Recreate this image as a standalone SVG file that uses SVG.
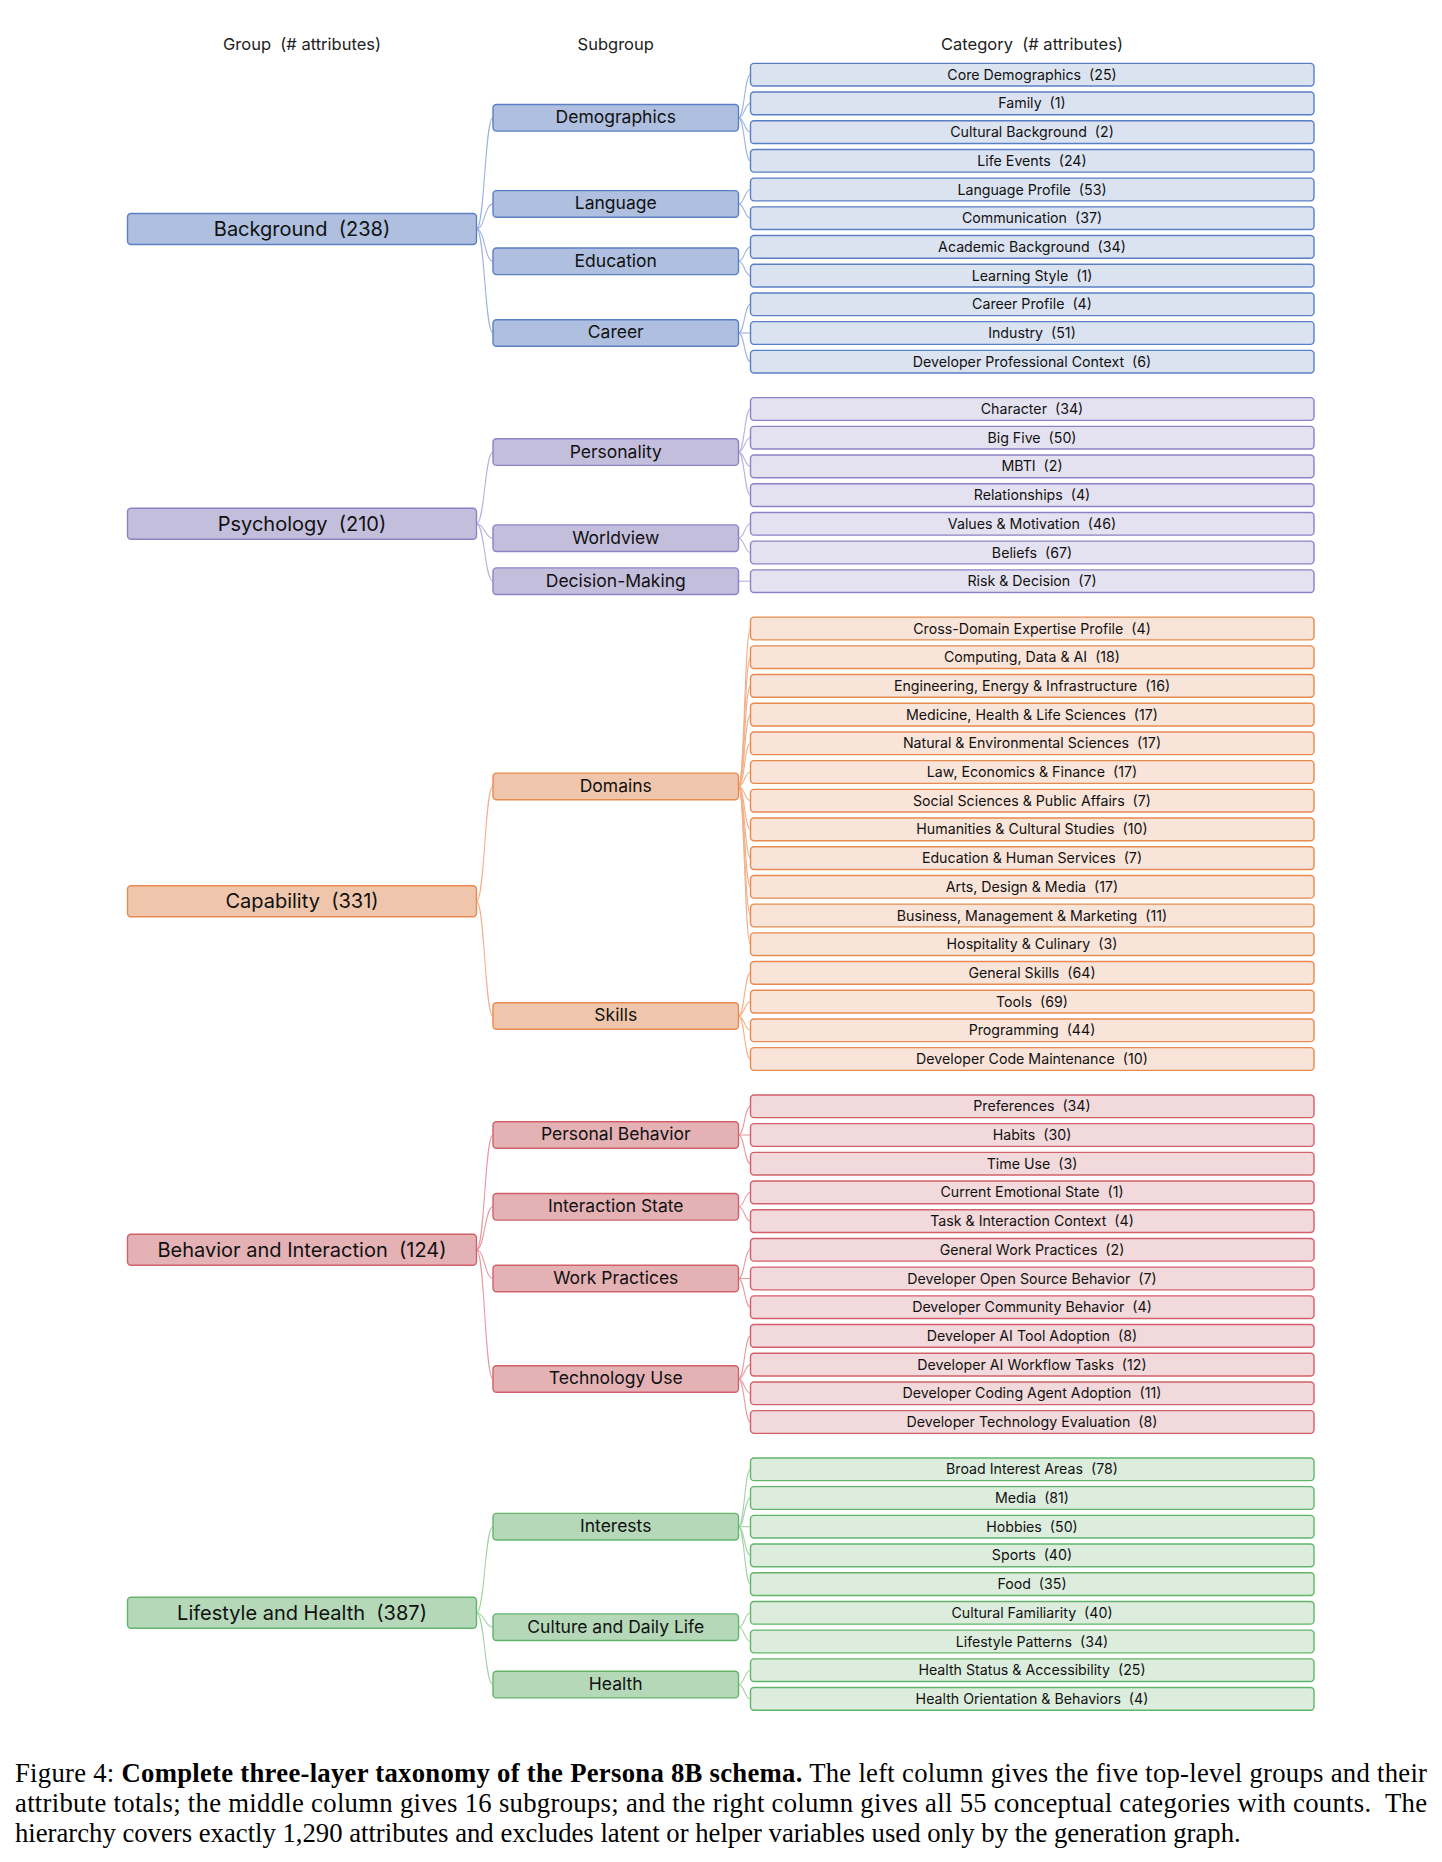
<svg xmlns="http://www.w3.org/2000/svg" width="1442" height="1862" viewBox="0 0 1442 1862">
<style>
text{font-family:Inter,"Noto Sans","Liberation Sans",sans-serif;fill:#111;white-space:pre;text-anchor:middle}
.hdr{font-size:16.5px;fill:#222}
.box{stroke-width:1.4}
.grp text{font-size:20px}
.sub text{font-size:17.5px}
.cat text{font-size:14.2px}
.t-bg .box{stroke:#5b7fc4}.grp.t-bg .box,.sub.t-bg .box{fill:#aebfdf}.cat.t-bg .box{fill:#dbe3f1}
.t-ps .box{stroke:#8b83c6}.grp.t-ps .box,.sub.t-ps .box{fill:#c4bedd}.cat.t-ps .box{fill:#e4e1f0}
.t-ca .box{stroke:#e8894f}.grp.t-ca .box,.sub.t-ca .box{fill:#efc6ab}.cat.t-ca .box{fill:#f9e4d9}
.t-be .box{stroke:#d2606a}.grp.t-be .box,.sub.t-be .box{fill:#e4b1b5}.cat.t-be .box{fill:#f2d9db}
.t-li .box{stroke:#62b46b}.grp.t-li .box,.sub.t-li .box{fill:#b4d8b8}.cat.t-li .box{fill:#dcedde}
#connectors path{fill:none;stroke-width:1.1}
.c-bg{stroke:#9fb3de}.c-ps{stroke:#b7b1de}.c-ca{stroke:#f2b08a}.c-be{stroke:#e59da2}.c-li{stroke:#a2d3a6}
.cap{font-family:"Liberation Serif","Times New Roman",serif;font-size:26.7px;text-anchor:start;fill:#000}
.cap .b{font-weight:bold}
</style>
<rect width="1442" height="1862" fill="#fff"/>
<g id="headers">
<text class="hdr" x="302" y="50">Group  (# attributes)</text>
<text class="hdr" x="615.75" y="50">Subgroup</text>
<text class="hdr" x="1032" y="50">Category  (# attributes)</text>
</g>
<g id="connectors">
<path class="c-bg" d="M476.5,229 C484.75,229 484.75,117.8 493,117.8"/>
<path class="c-bg" d="M476.5,229 C484.75,229 484.75,203.9 493,203.9"/>
<path class="c-bg" d="M476.5,229 C484.75,229 484.75,261.3 493,261.3"/>
<path class="c-bg" d="M476.5,229 C484.75,229 484.75,333 493,333"/>
<path class="c-ps" d="M476.5,523.8 C484.75,523.8 484.75,452.1 493,452.1"/>
<path class="c-ps" d="M476.5,523.8 C484.75,523.8 484.75,538.2 493,538.2"/>
<path class="c-ps" d="M476.5,523.8 C484.75,523.8 484.75,581.2 493,581.2"/>
<path class="c-ca" d="M476.5,901.2 C484.75,901.2 484.75,786.4 493,786.4"/>
<path class="c-ca" d="M476.5,901.2 C484.75,901.2 484.75,1016 493,1016"/>
<path class="c-be" d="M476.5,1249.8 C484.75,1249.8 484.75,1135 493,1135"/>
<path class="c-be" d="M476.5,1249.8 C484.75,1249.8 484.75,1206.8 493,1206.8"/>
<path class="c-be" d="M476.5,1249.8 C484.75,1249.8 484.75,1278.5 493,1278.5"/>
<path class="c-be" d="M476.5,1249.8 C484.75,1249.8 484.75,1379 493,1379"/>
<path class="c-li" d="M476.5,1612.8 C484.75,1612.8 484.75,1526.7 493,1526.7"/>
<path class="c-li" d="M476.5,1612.8 C484.75,1612.8 484.75,1627.2 493,1627.2"/>
<path class="c-li" d="M476.5,1612.8 C484.75,1612.8 484.75,1684.6 493,1684.6"/>
<path class="c-bg" d="M738.5,117.8 C744.5,117.8 744.5,74.7 750.5,74.7"/>
<path class="c-bg" d="M738.5,117.8 C744.5,117.8 744.5,103.4 750.5,103.4"/>
<path class="c-bg" d="M738.5,117.8 C744.5,117.8 744.5,132.1 750.5,132.1"/>
<path class="c-bg" d="M738.5,117.8 C744.5,117.8 744.5,160.8 750.5,160.8"/>
<path class="c-bg" d="M738.5,203.9 C744.5,203.9 744.5,189.5 750.5,189.5"/>
<path class="c-bg" d="M738.5,203.9 C744.5,203.9 744.5,218.2 750.5,218.2"/>
<path class="c-bg" d="M738.5,261.3 C744.5,261.3 744.5,246.9 750.5,246.9"/>
<path class="c-bg" d="M738.5,261.3 C744.5,261.3 744.5,275.6 750.5,275.6"/>
<path class="c-bg" d="M738.5,333 C744.5,333 744.5,304.3 750.5,304.3"/>
<path class="c-bg" d="M738.5,333 C744.5,333 744.5,333 750.5,333"/>
<path class="c-bg" d="M738.5,333 C744.5,333 744.5,361.7 750.5,361.7"/>
<path class="c-ps" d="M738.5,452.1 C744.5,452.1 744.5,409 750.5,409"/>
<path class="c-ps" d="M738.5,452.1 C744.5,452.1 744.5,437.7 750.5,437.7"/>
<path class="c-ps" d="M738.5,452.1 C744.5,452.1 744.5,466.4 750.5,466.4"/>
<path class="c-ps" d="M738.5,452.1 C744.5,452.1 744.5,495.1 750.5,495.1"/>
<path class="c-ps" d="M738.5,538.2 C744.5,538.2 744.5,523.8 750.5,523.8"/>
<path class="c-ps" d="M738.5,538.2 C744.5,538.2 744.5,552.5 750.5,552.5"/>
<path class="c-ps" d="M738.5,581.2 C744.5,581.2 744.5,581.2 750.5,581.2"/>
<path class="c-ca" d="M738.5,786.4 C744.5,786.4 744.5,628.5 750.5,628.5"/>
<path class="c-ca" d="M738.5,786.4 C744.5,786.4 744.5,657.2 750.5,657.2"/>
<path class="c-ca" d="M738.5,786.4 C744.5,786.4 744.5,685.9 750.5,685.9"/>
<path class="c-ca" d="M738.5,786.4 C744.5,786.4 744.5,714.6 750.5,714.6"/>
<path class="c-ca" d="M738.5,786.4 C744.5,786.4 744.5,743.3 750.5,743.3"/>
<path class="c-ca" d="M738.5,786.4 C744.5,786.4 744.5,772 750.5,772"/>
<path class="c-ca" d="M738.5,786.4 C744.5,786.4 744.5,800.7 750.5,800.7"/>
<path class="c-ca" d="M738.5,786.4 C744.5,786.4 744.5,829.4 750.5,829.4"/>
<path class="c-ca" d="M738.5,786.4 C744.5,786.4 744.5,858.1 750.5,858.1"/>
<path class="c-ca" d="M738.5,786.4 C744.5,786.4 744.5,886.8 750.5,886.8"/>
<path class="c-ca" d="M738.5,786.4 C744.5,786.4 744.5,915.5 750.5,915.5"/>
<path class="c-ca" d="M738.5,786.4 C744.5,786.4 744.5,944.2 750.5,944.2"/>
<path class="c-ca" d="M738.5,1016 C744.5,1016 744.5,972.9 750.5,972.9"/>
<path class="c-ca" d="M738.5,1016 C744.5,1016 744.5,1001.6 750.5,1001.6"/>
<path class="c-ca" d="M738.5,1016 C744.5,1016 744.5,1030.3 750.5,1030.3"/>
<path class="c-ca" d="M738.5,1016 C744.5,1016 744.5,1059 750.5,1059"/>
<path class="c-be" d="M738.5,1135 C744.5,1135 744.5,1106.3 750.5,1106.3"/>
<path class="c-be" d="M738.5,1135 C744.5,1135 744.5,1135 750.5,1135"/>
<path class="c-be" d="M738.5,1135 C744.5,1135 744.5,1163.7 750.5,1163.7"/>
<path class="c-be" d="M738.5,1206.8 C744.5,1206.8 744.5,1192.4 750.5,1192.4"/>
<path class="c-be" d="M738.5,1206.8 C744.5,1206.8 744.5,1221.1 750.5,1221.1"/>
<path class="c-be" d="M738.5,1278.5 C744.5,1278.5 744.5,1249.8 750.5,1249.8"/>
<path class="c-be" d="M738.5,1278.5 C744.5,1278.5 744.5,1278.5 750.5,1278.5"/>
<path class="c-be" d="M738.5,1278.5 C744.5,1278.5 744.5,1307.2 750.5,1307.2"/>
<path class="c-be" d="M738.5,1379 C744.5,1379 744.5,1335.9 750.5,1335.9"/>
<path class="c-be" d="M738.5,1379 C744.5,1379 744.5,1364.6 750.5,1364.6"/>
<path class="c-be" d="M738.5,1379 C744.5,1379 744.5,1393.3 750.5,1393.3"/>
<path class="c-be" d="M738.5,1379 C744.5,1379 744.5,1422 750.5,1422"/>
<path class="c-li" d="M738.5,1526.7 C744.5,1526.7 744.5,1469.3 750.5,1469.3"/>
<path class="c-li" d="M738.5,1526.7 C744.5,1526.7 744.5,1498 750.5,1498"/>
<path class="c-li" d="M738.5,1526.7 C744.5,1526.7 744.5,1526.7 750.5,1526.7"/>
<path class="c-li" d="M738.5,1526.7 C744.5,1526.7 744.5,1555.4 750.5,1555.4"/>
<path class="c-li" d="M738.5,1526.7 C744.5,1526.7 744.5,1584.1 750.5,1584.1"/>
<path class="c-li" d="M738.5,1627.2 C744.5,1627.2 744.5,1612.8 750.5,1612.8"/>
<path class="c-li" d="M738.5,1627.2 C744.5,1627.2 744.5,1641.5 750.5,1641.5"/>
<path class="c-li" d="M738.5,1684.6 C744.5,1684.6 744.5,1670.2 750.5,1670.2"/>
<path class="c-li" d="M738.5,1684.6 C744.5,1684.6 744.5,1698.9 750.5,1698.9"/>
</g>
<g id="groups">
<g id="g-background" class="grp t-bg" transform="translate(0,229)"><rect class="box" x="127.5" y="-15.5" width="349" height="31" rx="3.5"/><text x="302" y="7">Background  (238)</text></g>
<g id="g-psychology" class="grp t-ps" transform="translate(0,523.8)"><rect class="box" x="127.5" y="-15.5" width="349" height="31" rx="3.5"/><text x="302" y="7">Psychology  (210)</text></g>
<g id="g-capability" class="grp t-ca" transform="translate(0,901.2)"><rect class="box" x="127.5" y="-15.5" width="349" height="31" rx="3.5"/><text x="302" y="7">Capability  (331)</text></g>
<g id="g-behavior" class="grp t-be" transform="translate(0,1249.8)"><rect class="box" x="127.5" y="-15.5" width="349" height="31" rx="3.5"/><text x="302" y="7">Behavior and Interaction  (124)</text></g>
<g id="g-lifestyle" class="grp t-li" transform="translate(0,1612.8)"><rect class="box" x="127.5" y="-15.5" width="349" height="31" rx="3.5"/><text x="302" y="7">Lifestyle and Health  (387)</text></g>
</g>
<g id="subgroups">
<g id="s-demographics" class="sub t-bg" transform="translate(0,117.8)"><rect class="box" x="493" y="-13.3" width="245.5" height="26.6" rx="3.5"/><text x="615.75" y="5.4">Demographics</text></g>
<g id="s-language" class="sub t-bg" transform="translate(0,203.9)"><rect class="box" x="493" y="-13.3" width="245.5" height="26.6" rx="3.5"/><text x="615.75" y="5.4">Language</text></g>
<g id="s-education" class="sub t-bg" transform="translate(0,261.3)"><rect class="box" x="493" y="-13.3" width="245.5" height="26.6" rx="3.5"/><text x="615.75" y="5.4">Education</text></g>
<g id="s-career" class="sub t-bg" transform="translate(0,333)"><rect class="box" x="493" y="-13.3" width="245.5" height="26.6" rx="3.5"/><text x="615.75" y="5.4">Career</text></g>
<g id="s-personality" class="sub t-ps" transform="translate(0,452.1)"><rect class="box" x="493" y="-13.3" width="245.5" height="26.6" rx="3.5"/><text x="615.75" y="5.4">Personality</text></g>
<g id="s-worldview" class="sub t-ps" transform="translate(0,538.2)"><rect class="box" x="493" y="-13.3" width="245.5" height="26.6" rx="3.5"/><text x="615.75" y="5.4">Worldview</text></g>
<g id="s-decision" class="sub t-ps" transform="translate(0,581.2)"><rect class="box" x="493" y="-13.3" width="245.5" height="26.6" rx="3.5"/><text x="615.75" y="5.4">Decision-Making</text></g>
<g id="s-domains" class="sub t-ca" transform="translate(0,786.4)"><rect class="box" x="493" y="-13.3" width="245.5" height="26.6" rx="3.5"/><text x="615.75" y="5.4">Domains</text></g>
<g id="s-skills" class="sub t-ca" transform="translate(0,1016)"><rect class="box" x="493" y="-13.3" width="245.5" height="26.6" rx="3.5"/><text x="615.75" y="5.4">Skills</text></g>
<g id="s-personal-behavior" class="sub t-be" transform="translate(0,1135)"><rect class="box" x="493" y="-13.3" width="245.5" height="26.6" rx="3.5"/><text x="615.75" y="5.4">Personal Behavior</text></g>
<g id="s-interaction-state" class="sub t-be" transform="translate(0,1206.8)"><rect class="box" x="493" y="-13.3" width="245.5" height="26.6" rx="3.5"/><text x="615.75" y="5.4">Interaction State</text></g>
<g id="s-work-practices" class="sub t-be" transform="translate(0,1278.5)"><rect class="box" x="493" y="-13.3" width="245.5" height="26.6" rx="3.5"/><text x="615.75" y="5.4">Work Practices</text></g>
<g id="s-technology-use" class="sub t-be" transform="translate(0,1379)"><rect class="box" x="493" y="-13.3" width="245.5" height="26.6" rx="3.5"/><text x="615.75" y="5.4">Technology Use</text></g>
<g id="s-interests" class="sub t-li" transform="translate(0,1526.7)"><rect class="box" x="493" y="-13.3" width="245.5" height="26.6" rx="3.5"/><text x="615.75" y="5.4">Interests</text></g>
<g id="s-culture" class="sub t-li" transform="translate(0,1627.2)"><rect class="box" x="493" y="-13.3" width="245.5" height="26.6" rx="3.5"/><text x="615.75" y="5.4">Culture and Daily Life</text></g>
<g id="s-health" class="sub t-li" transform="translate(0,1684.6)"><rect class="box" x="493" y="-13.3" width="245.5" height="26.6" rx="3.5"/><text x="615.75" y="5.4">Health</text></g>
</g>
<g id="categories">
<g id="c01" class="cat t-bg" transform="translate(0,74.7)"><rect class="box" x="750.5" y="-11.35" width="563.5" height="22.7" rx="3.5"/><text x="1032" y="5">Core Demographics  (25)</text></g>
<g id="c02" class="cat t-bg" transform="translate(0,103.4)"><rect class="box" x="750.5" y="-11.35" width="563.5" height="22.7" rx="3.5"/><text x="1032" y="5">Family  (1)</text></g>
<g id="c03" class="cat t-bg" transform="translate(0,132.1)"><rect class="box" x="750.5" y="-11.35" width="563.5" height="22.7" rx="3.5"/><text x="1032" y="5">Cultural Background  (2)</text></g>
<g id="c04" class="cat t-bg" transform="translate(0,160.8)"><rect class="box" x="750.5" y="-11.35" width="563.5" height="22.7" rx="3.5"/><text x="1032" y="5">Life Events  (24)</text></g>
<g id="c05" class="cat t-bg" transform="translate(0,189.5)"><rect class="box" x="750.5" y="-11.35" width="563.5" height="22.7" rx="3.5"/><text x="1032" y="5">Language Profile  (53)</text></g>
<g id="c06" class="cat t-bg" transform="translate(0,218.2)"><rect class="box" x="750.5" y="-11.35" width="563.5" height="22.7" rx="3.5"/><text x="1032" y="5">Communication  (37)</text></g>
<g id="c07" class="cat t-bg" transform="translate(0,246.9)"><rect class="box" x="750.5" y="-11.35" width="563.5" height="22.7" rx="3.5"/><text x="1032" y="5">Academic Background  (34)</text></g>
<g id="c08" class="cat t-bg" transform="translate(0,275.6)"><rect class="box" x="750.5" y="-11.35" width="563.5" height="22.7" rx="3.5"/><text x="1032" y="5">Learning Style  (1)</text></g>
<g id="c09" class="cat t-bg" transform="translate(0,304.3)"><rect class="box" x="750.5" y="-11.35" width="563.5" height="22.7" rx="3.5"/><text x="1032" y="5">Career Profile  (4)</text></g>
<g id="c10" class="cat t-bg" transform="translate(0,333)"><rect class="box" x="750.5" y="-11.35" width="563.5" height="22.7" rx="3.5"/><text x="1032" y="5">Industry  (51)</text></g>
<g id="c11" class="cat t-bg" transform="translate(0,361.7)"><rect class="box" x="750.5" y="-11.35" width="563.5" height="22.7" rx="3.5"/><text x="1032" y="5">Developer Professional Context  (6)</text></g>
<g id="c12" class="cat t-ps" transform="translate(0,409)"><rect class="box" x="750.5" y="-11.35" width="563.5" height="22.7" rx="3.5"/><text x="1032" y="5">Character  (34)</text></g>
<g id="c13" class="cat t-ps" transform="translate(0,437.7)"><rect class="box" x="750.5" y="-11.35" width="563.5" height="22.7" rx="3.5"/><text x="1032" y="5">Big Five  (50)</text></g>
<g id="c14" class="cat t-ps" transform="translate(0,466.4)"><rect class="box" x="750.5" y="-11.35" width="563.5" height="22.7" rx="3.5"/><text x="1032" y="5">MBTI  (2)</text></g>
<g id="c15" class="cat t-ps" transform="translate(0,495.1)"><rect class="box" x="750.5" y="-11.35" width="563.5" height="22.7" rx="3.5"/><text x="1032" y="5">Relationships  (4)</text></g>
<g id="c16" class="cat t-ps" transform="translate(0,523.8)"><rect class="box" x="750.5" y="-11.35" width="563.5" height="22.7" rx="3.5"/><text x="1032" y="5">Values &amp; Motivation  (46)</text></g>
<g id="c17" class="cat t-ps" transform="translate(0,552.5)"><rect class="box" x="750.5" y="-11.35" width="563.5" height="22.7" rx="3.5"/><text x="1032" y="5">Beliefs  (67)</text></g>
<g id="c18" class="cat t-ps" transform="translate(0,581.2)"><rect class="box" x="750.5" y="-11.35" width="563.5" height="22.7" rx="3.5"/><text x="1032" y="5">Risk &amp; Decision  (7)</text></g>
<g id="c19" class="cat t-ca" transform="translate(0,628.5)"><rect class="box" x="750.5" y="-11.35" width="563.5" height="22.7" rx="3.5"/><text x="1032" y="5">Cross-Domain Expertise Profile  (4)</text></g>
<g id="c20" class="cat t-ca" transform="translate(0,657.2)"><rect class="box" x="750.5" y="-11.35" width="563.5" height="22.7" rx="3.5"/><text x="1032" y="5">Computing, Data &amp; AI  (18)</text></g>
<g id="c21" class="cat t-ca" transform="translate(0,685.9)"><rect class="box" x="750.5" y="-11.35" width="563.5" height="22.7" rx="3.5"/><text x="1032" y="5">Engineering, Energy &amp; Infrastructure  (16)</text></g>
<g id="c22" class="cat t-ca" transform="translate(0,714.6)"><rect class="box" x="750.5" y="-11.35" width="563.5" height="22.7" rx="3.5"/><text x="1032" y="5">Medicine, Health &amp; Life Sciences  (17)</text></g>
<g id="c23" class="cat t-ca" transform="translate(0,743.3)"><rect class="box" x="750.5" y="-11.35" width="563.5" height="22.7" rx="3.5"/><text x="1032" y="5">Natural &amp; Environmental Sciences  (17)</text></g>
<g id="c24" class="cat t-ca" transform="translate(0,772)"><rect class="box" x="750.5" y="-11.35" width="563.5" height="22.7" rx="3.5"/><text x="1032" y="5">Law, Economics &amp; Finance  (17)</text></g>
<g id="c25" class="cat t-ca" transform="translate(0,800.7)"><rect class="box" x="750.5" y="-11.35" width="563.5" height="22.7" rx="3.5"/><text x="1032" y="5">Social Sciences &amp; Public Affairs  (7)</text></g>
<g id="c26" class="cat t-ca" transform="translate(0,829.4)"><rect class="box" x="750.5" y="-11.35" width="563.5" height="22.7" rx="3.5"/><text x="1032" y="5">Humanities &amp; Cultural Studies  (10)</text></g>
<g id="c27" class="cat t-ca" transform="translate(0,858.1)"><rect class="box" x="750.5" y="-11.35" width="563.5" height="22.7" rx="3.5"/><text x="1032" y="5">Education &amp; Human Services  (7)</text></g>
<g id="c28" class="cat t-ca" transform="translate(0,886.8)"><rect class="box" x="750.5" y="-11.35" width="563.5" height="22.7" rx="3.5"/><text x="1032" y="5">Arts, Design &amp; Media  (17)</text></g>
<g id="c29" class="cat t-ca" transform="translate(0,915.5)"><rect class="box" x="750.5" y="-11.35" width="563.5" height="22.7" rx="3.5"/><text x="1032" y="5">Business, Management &amp; Marketing  (11)</text></g>
<g id="c30" class="cat t-ca" transform="translate(0,944.2)"><rect class="box" x="750.5" y="-11.35" width="563.5" height="22.7" rx="3.5"/><text x="1032" y="5">Hospitality &amp; Culinary  (3)</text></g>
<g id="c31" class="cat t-ca" transform="translate(0,972.9)"><rect class="box" x="750.5" y="-11.35" width="563.5" height="22.7" rx="3.5"/><text x="1032" y="5">General Skills  (64)</text></g>
<g id="c32" class="cat t-ca" transform="translate(0,1001.6)"><rect class="box" x="750.5" y="-11.35" width="563.5" height="22.7" rx="3.5"/><text x="1032" y="5">Tools  (69)</text></g>
<g id="c33" class="cat t-ca" transform="translate(0,1030.3)"><rect class="box" x="750.5" y="-11.35" width="563.5" height="22.7" rx="3.5"/><text x="1032" y="5">Programming  (44)</text></g>
<g id="c34" class="cat t-ca" transform="translate(0,1059)"><rect class="box" x="750.5" y="-11.35" width="563.5" height="22.7" rx="3.5"/><text x="1032" y="5">Developer Code Maintenance  (10)</text></g>
<g id="c35" class="cat t-be" transform="translate(0,1106.3)"><rect class="box" x="750.5" y="-11.35" width="563.5" height="22.7" rx="3.5"/><text x="1032" y="5">Preferences  (34)</text></g>
<g id="c36" class="cat t-be" transform="translate(0,1135)"><rect class="box" x="750.5" y="-11.35" width="563.5" height="22.7" rx="3.5"/><text x="1032" y="5">Habits  (30)</text></g>
<g id="c37" class="cat t-be" transform="translate(0,1163.7)"><rect class="box" x="750.5" y="-11.35" width="563.5" height="22.7" rx="3.5"/><text x="1032" y="5">Time Use  (3)</text></g>
<g id="c38" class="cat t-be" transform="translate(0,1192.4)"><rect class="box" x="750.5" y="-11.35" width="563.5" height="22.7" rx="3.5"/><text x="1032" y="5">Current Emotional State  (1)</text></g>
<g id="c39" class="cat t-be" transform="translate(0,1221.1)"><rect class="box" x="750.5" y="-11.35" width="563.5" height="22.7" rx="3.5"/><text x="1032" y="5">Task &amp; Interaction Context  (4)</text></g>
<g id="c40" class="cat t-be" transform="translate(0,1249.8)"><rect class="box" x="750.5" y="-11.35" width="563.5" height="22.7" rx="3.5"/><text x="1032" y="5">General Work Practices  (2)</text></g>
<g id="c41" class="cat t-be" transform="translate(0,1278.5)"><rect class="box" x="750.5" y="-11.35" width="563.5" height="22.7" rx="3.5"/><text x="1032" y="5">Developer Open Source Behavior  (7)</text></g>
<g id="c42" class="cat t-be" transform="translate(0,1307.2)"><rect class="box" x="750.5" y="-11.35" width="563.5" height="22.7" rx="3.5"/><text x="1032" y="5">Developer Community Behavior  (4)</text></g>
<g id="c43" class="cat t-be" transform="translate(0,1335.9)"><rect class="box" x="750.5" y="-11.35" width="563.5" height="22.7" rx="3.5"/><text x="1032" y="5">Developer AI Tool Adoption  (8)</text></g>
<g id="c44" class="cat t-be" transform="translate(0,1364.6)"><rect class="box" x="750.5" y="-11.35" width="563.5" height="22.7" rx="3.5"/><text x="1032" y="5">Developer AI Workflow Tasks  (12)</text></g>
<g id="c45" class="cat t-be" transform="translate(0,1393.3)"><rect class="box" x="750.5" y="-11.35" width="563.5" height="22.7" rx="3.5"/><text x="1032" y="5">Developer Coding Agent Adoption  (11)</text></g>
<g id="c46" class="cat t-be" transform="translate(0,1422)"><rect class="box" x="750.5" y="-11.35" width="563.5" height="22.7" rx="3.5"/><text x="1032" y="5">Developer Technology Evaluation  (8)</text></g>
<g id="c47" class="cat t-li" transform="translate(0,1469.3)"><rect class="box" x="750.5" y="-11.35" width="563.5" height="22.7" rx="3.5"/><text x="1032" y="5">Broad Interest Areas  (78)</text></g>
<g id="c48" class="cat t-li" transform="translate(0,1498)"><rect class="box" x="750.5" y="-11.35" width="563.5" height="22.7" rx="3.5"/><text x="1032" y="5">Media  (81)</text></g>
<g id="c49" class="cat t-li" transform="translate(0,1526.7)"><rect class="box" x="750.5" y="-11.35" width="563.5" height="22.7" rx="3.5"/><text x="1032" y="5">Hobbies  (50)</text></g>
<g id="c50" class="cat t-li" transform="translate(0,1555.4)"><rect class="box" x="750.5" y="-11.35" width="563.5" height="22.7" rx="3.5"/><text x="1032" y="5">Sports  (40)</text></g>
<g id="c51" class="cat t-li" transform="translate(0,1584.1)"><rect class="box" x="750.5" y="-11.35" width="563.5" height="22.7" rx="3.5"/><text x="1032" y="5">Food  (35)</text></g>
<g id="c52" class="cat t-li" transform="translate(0,1612.8)"><rect class="box" x="750.5" y="-11.35" width="563.5" height="22.7" rx="3.5"/><text x="1032" y="5">Cultural Familiarity  (40)</text></g>
<g id="c53" class="cat t-li" transform="translate(0,1641.5)"><rect class="box" x="750.5" y="-11.35" width="563.5" height="22.7" rx="3.5"/><text x="1032" y="5">Lifestyle Patterns  (34)</text></g>
<g id="c54" class="cat t-li" transform="translate(0,1670.2)"><rect class="box" x="750.5" y="-11.35" width="563.5" height="22.7" rx="3.5"/><text x="1032" y="5">Health Status &amp; Accessibility  (25)</text></g>
<g id="c55" class="cat t-li" transform="translate(0,1698.9)"><rect class="box" x="750.5" y="-11.35" width="563.5" height="22.7" rx="3.5"/><text x="1032" y="5">Health Orientation &amp; Behaviors  (4)</text></g>
</g>
<g id="caption">
<text class="cap" x="15" y="1782" textLength="1412" lengthAdjust="spacing">Figure 4: <tspan class="b">Complete three-layer taxonomy of the Persona 8B schema.</tspan> The left column gives the five top-level groups and their</text>
<text class="cap" x="15" y="1812" textLength="1412" lengthAdjust="spacing">attribute totals; the middle column gives 16 subgroups; and the right column gives all 55 conceptual categories with counts.  The</text>
<text class="cap" x="15" y="1842">hierarchy covers exactly 1,290 attributes and excludes latent or helper variables used only by the generation graph.</text>
</g>
</svg>
